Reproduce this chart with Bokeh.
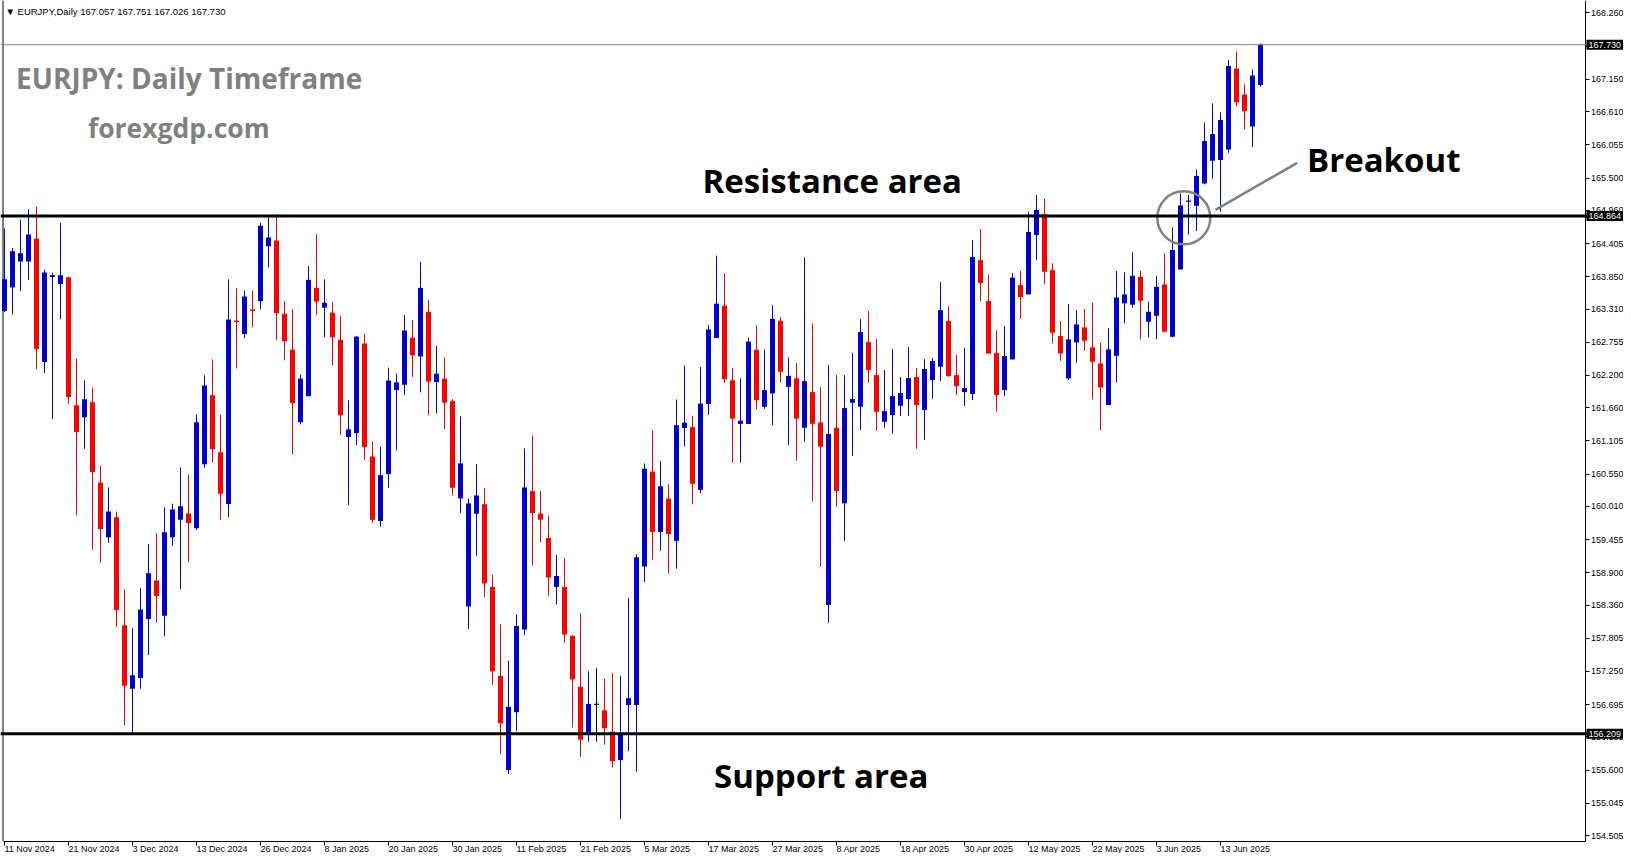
from bokeh.plotting import figure
from bokeh.models import Range1d, FixedTicker, Span, Label, ColumnDataSource, NumeralTickFormatter
from bokeh.embed import file_html
from bokeh.resources import INLINE

# ---------------- data ----------------
opens = [163.275,163.67,164.106,164.106,164.49,162.422,163.846,163.727,163.84,161.699,
         161.501,161.75,160.41,159.495,159.829,158.021,156.959,157.14,158.128,158.772,
         158.179,159.495,159.784,159.891,159.642,160.716,161.868,160.913,160.049,163.117,
         162.891,163.303,163.44,164.36,164.456,163.23,162.63,161.418,161.852,163.664,
         163.332,163.25,162.796,161.169,161.233,162.733,160.844,159.765,160.55,161.954,
         162.043,162.828,162.516,163.262,162.088,162.146,161.769,160.142,158.336,159.887,
         160.046,158.661,157.175,155.598,156.568,157.952,160.263,159.889,159.48,158.662,
         158.662,157.845,156.993,156.209,156.7,156.598,156.243,155.766,156.686,156.686,
         159.003,160.591,159.582,160.141,159.432,161.32,161.334,160.284,161.722,162.826,
         163.365,162.118,161.388,161.388,162.628,161.675,161.899,163.113,162.009,162.152,
         161.324,161.921,161.414,158.359,161.324,160.059,161.743,161.676,162.757,162.205,
         161.425,161.536,161.692,161.804,162.172,161.62,162.122,162.345,163.108,162.205,
         161.921,161.888,164.128,163.443,162.573,161.954,162.467,163.71,163.554,164.546,
         164.897,163.961,162.857,162.149,162.752,163.002,162.668,162.4,161.704,162.528,
         163.404,163.381,163.849,163.097,163.197,163.721,162.846,163.972,165.104,165.037,
         165.41,165.789,165.8,165.979,167.332,166.897,166.362,167.057]
highs = [164.66,164.33,164.806,164.976,165.026,163.965,163.919,164.755,163.84,162.484,
         162.117,161.998,160.687,160.326,159.925,158.625,157.97,158.642,159.377,159.558,
         159.993,160.055,160.66,160.546,161.546,162.202,162.467,161.546,163.806,163.654,
         163.62,163.62,164.755,164.84,164.897,163.447,163.313,162.216,164.028,164.564,
         163.805,163.428,163.198,161.782,162.86,162.898,161.093,161.01,162.331,162.229,
         163.211,163.128,164.098,163.466,162.694,162.496,161.801,161.514,160.142,160.715,
         160.314,158.865,158.036,157.43,158.202,160.978,161.195,160.264,159.855,159.194,
         159.146,157.858,158.22,157.252,157.3,157.129,157.218,157.177,158.478,159.208,
         160.727,161.286,160.768,160.38,161.797,162.363,161.525,162.342,163.044,164.203,
         163.903,162.329,162.152,162.833,163.037,162.629,163.372,163.181,162.499,162.404,
         164.173,163.069,161.999,162.372,162.205,162.205,162.579,163.142,163.275,162.807,
         162.289,162.64,162.172,162.673,162.322,162.473,162.489,163.76,163.359,162.54,
         162.657,164.463,164.647,163.894,162.958,163.025,163.911,163.944,164.931,165.215,
         165.159,164.073,163.108,163.393,163.292,163.309,163.42,162.746,162.986,163.95,
         163.922,164.256,163.95,163.431,163.866,164.24,164.674,165.243,165.215,165.644,
         166.43,166.748,166.598,167.473,167.616,167.064,167.315,167.751]
lows = [163.26,163.22,163.608,163.795,162.303,162.241,161.467,163.14,161.72,159.857,
        160.97,159.281,159.06,159.4,157.993,156.35,156.2,156.959,157.523,158.06,
        157.835,159.348,158.625,159.077,159.614,160.66,160.744,159.784,159.829,162.315,
        162.823,163.004,163.303,164.004,162.79,162.452,160.882,161.38,161.852,163.205,
        162.835,162.369,161.201,160.033,161.035,160.786,159.733,159.67,160.32,160.946,
        161.871,162.177,161.916,161.533,161.565,161.303,160.193,159.893,157.959,159.184,
        158.495,157.028,155.866,155.534,156.249,157.857,159.018,159.412,158.512,158.369,
        157.722,156.311,155.821,156.073,156.073,156.025,155.643,154.78,155.916,155.575,
        158.744,159.119,159.269,158.887,158.969,161.013,160.046,160.23,161.538,162.826,
        162.07,160.741,160.741,161.388,161.627,161.641,161.368,162.083,161.034,160.775,
        161.09,160.087,159.0,158.064,160.003,159.435,160.856,161.285,162.077,161.274,
        161.324,161.224,161.525,161.525,160.973,161.118,161.809,162.105,162.177,161.871,
        161.687,161.787,163.443,162.556,161.592,161.854,162.467,163.147,163.554,164.128,
        163.727,162.735,162.445,162.122,162.411,162.612,161.798,161.285,161.704,162.082,
        163.069,163.336,162.801,162.835,162.801,162.93,162.835,163.972,164.557,164.613,
        165.394,165.488,164.936,165.923,166.70,166.312,166.016,167.026]
closes = [163.806,164.275,164.241,164.558,162.642,163.919,163.874,163.874,161.84,161.253,
          161.8,160.586,159.631,159.925,158.275,157.01,157.185,158.286,158.891,158.512,
          159.575,159.959,160.01,159.733,161.416,162.032,160.97,160.219,163.134,163.094,
          163.518,163.275,164.704,164.507,163.241,162.771,161.737,162.146,163.798,163.434,
          163.415,162.835,161.533,161.297,162.848,161.003,159.784,160.532,162.114,162.082,
          162.95,162.535,163.664,162.095,162.229,161.744,160.32,160.729,160.059,160.193,
          158.719,157.251,156.383,156.657,158.01,160.327,159.899,159.787,158.819,158.846,
          157.865,157.115,156.107,156.707,156.7,156.298,155.746,156.189,156.802,159.16,
          160.639,159.582,160.346,159.548,161.368,161.409,160.387,161.729,162.969,163.399,
          162.138,161.477,161.443,162.765,161.784,161.954,163.147,162.26,162.193,161.477,
          162.105,161.391,161.007,161.219,160.265,161.653,161.804,162.924,162.289,161.592,
          161.603,161.854,161.904,162.155,161.704,162.306,162.439,163.292,162.188,162.021,
          161.988,164.178,163.744,162.567,161.871,162.523,163.833,163.509,164.596,164.964,
          163.933,162.913,162.567,162.802,163.053,162.779,162.428,161.999,162.634,163.504,
          163.554,163.866,163.448,163.264,163.682,162.93,164.295,165.042,165.126,165.533,
          166.118,166.235,166.47,167.373,166.768,166.618,167.215,167.730]

date_labels = ["11 Nov 2024", "21 Nov 2024", "3 Dec 2024", "13 Dec 2024", "26 Dec 2024",
               "8 Jan 2025", "20 Jan 2025", "30 Jan 2025", "11 Feb 2025", "21 Feb 2025",
               "5 Mar 2025", "17 Mar 2025", "27 Mar 2025", "8 Apr 2025", "18 Apr 2025",
               "30 Apr 2025", "12 May 2025", "22 May 2025", "3 Jun 2025", "13 Jun 2025"]
date_bars = [1, 9, 17, 25, 33, 41, 49, 57, 65, 73, 81, 89, 97, 105, 113, 121, 129, 137, 145, 153]

price_ticks = [168.26, 167.705, 167.15, 166.61, 166.055, 165.5, 164.96, 164.405, 163.85,
               163.31, 162.755, 162.2, 161.66, 161.105, 160.55, 160.01, 159.455, 158.9,
               158.36, 157.805, 157.25, 156.695, 156.155, 155.6, 155.045, 154.505]

resistance_level = 164.864
support_level = 156.209
last_price = 167.730
header_values = ["167.057", "167.751", "167.026", "167.730"]

# ---------------- layout constants (pixels -> data) ----------------
PX_PER_BAR = 8.0
PX_PER_YEN = 59.8
W, H = 1623, 853
TOP_PRICE = 168.469          # price at the top edge of the canvas


def bx(px):                  # canvas x (px) -> bar index
    return (px + 4.0) / PX_PER_BAR


def py(px):                  # canvas y (px) -> price
    return TOP_PRICE - px / PX_PER_YEN


AXIS_X = bx(1584.5)           # right price axis
AXIS_Y = py(840.5)            # bottom time axis
LEFT_X = bx(2.5)

# ---------------- candles ----------------
n = len(opens)
idx = list(range(1, n + 1))
tops, bottoms, colors = [], [], []
for o, c in zip(opens, closes):
    t, b = max(o, c), min(o, c)
    if t - b < 0.02:
        m = (t + b) / 2
        t, b = m + 0.01, m - 0.01
    tops.append(t)
    bottoms.append(b)
    colors.append("#0000CD" if c > o else ("#FF0000" if c < o else "#000000"))

src = ColumnDataSource(dict(x=idx, o=opens, h=highs, l=lows, c=closes,
                            top=tops, bottom=bottoms, color=colors))

p = figure(width=W, height=H,
           x_range=Range1d(bx(0), bx(W)), y_range=Range1d(py(H), py(0)),
           output_backend="svg", toolbar_location=None, y_axis_location="right",
           min_border_left=0, min_border_top=0, min_border_right=0, min_border_bottom=0)
p.background_fill_color = "white"
p.border_fill_color = "white"
p.outline_line_color = None
p.xgrid.visible = False
p.ygrid.visible = False

# price axis (right, drawn at a fixed location inside the canvas)
ya = p.yaxis[0]
ya.fixed_location = AXIS_X
ya.bounds = (AXIS_Y, TOP_PRICE)
ya.ticker = FixedTicker(ticks=price_ticks)
ya.formatter = NumeralTickFormatter(format="0.000")
ya.axis_line_color = "black"
ya.major_tick_out = 4
ya.major_tick_in = 0
ya.minor_tick_line_color = None
ya.major_label_standoff = 2
ya.major_label_text_font = "Liberation Sans"
ya.major_label_text_font_size = "9px"
ya.major_label_text_color = "black"

# time axis (bottom, fixed location)
xa = p.xaxis[0]
xa.fixed_location = AXIS_Y
xa.bounds = (LEFT_X, AXIS_X)
xa.ticker = FixedTicker(ticks=date_bars)
xa.axis_line_color = "black"
xa.major_tick_out = 4
xa.major_tick_in = 0
xa.minor_tick_line_color = None
xa.major_label_text_color = None

# left frame line
p.segment(x0=[LEFT_X], y0=[AXIS_Y], x1=[LEFT_X], y1=[TOP_PRICE], line_color="black", line_width=1)

# level lines
p.add_layout(Span(location=last_price, dimension="width", line_color="#778899", line_width=1))
p.add_layout(Span(location=resistance_level, dimension="width", line_color="black", line_width=3))
p.add_layout(Span(location=support_level, dimension="width", line_color="black", line_width=3))

# candles
p.segment(x0="x", y0="l", x1="x", y1="h", color="color", line_width=1, source=src)
p.vbar(x="x", width=0.625, top="top", bottom="bottom", fill_color="color",
       line_color=None, source=src)

# date labels, left aligned at their ticks
for b, t in zip(date_bars, date_labels):
    p.add_layout(Label(x=b, y=py(848), text=t, text_align="left", text_baseline="middle",
                       text_font="Liberation Sans", text_font_size="9px", text_color="black"))

# highlighted price boxes on the axis (drawn above the axis labels)
for v in [last_price, resistance_level, support_level]:
    p.add_layout(Label(x=bx(1586), y=v, text=f"{v:.3f}", text_align="left",
                       text_baseline="middle", text_font="Liberation Sans",
                       text_font_size="9px", text_color="white", level="overlay",
                       background_fill_color="black", padding=2))

# header
p.add_layout(Label(x=bx(5), y=py(10.5), text="\u25BC EURJPY,Daily  " + " ".join(header_values),
                   text_align="left", text_baseline="middle", text_font="Liberation Sans",
                   text_font_size="9.5px", text_color="black"))

# titles
p.add_layout(Label(x=bx(15.6), y=py(77), text="EURJPY: Daily Timeframe", text_align="left",
                   text_baseline="middle", text_font="Open Sans", text_font_style="bold",
                   text_font_size="28px", text_color="#808080"))
p.add_layout(Label(x=bx(87.4), y=py(127), text="forexgdp.com", text_align="left",
                   text_baseline="middle", text_font="Open Sans", text_font_style="bold",
                   text_font_size="26.5px", text_color="#808080"))
p.add_layout(Label(x=bx(702), y=py(180), text="Resistance area", text_align="left",
                   text_baseline="middle", text_font="Open Sans", text_font_style="bold",
                   text_font_size="33px", text_color="black"))
p.add_layout(Label(x=bx(713.6), y=py(775), text="Support area", text_align="left",
                   text_baseline="middle", text_font="Open Sans", text_font_style="bold",
                   text_font_size="33px", text_color="black"))
p.add_layout(Label(x=bx(1306.5), y=py(159), text="Breakout", text_align="left",
                   text_baseline="middle", text_font="Open Sans", text_font_style="bold",
                   text_font_size="33px", text_color="black"))

# breakout circle and pointer
p.scatter(x=[bx(1183.3)], y=[py(217.3)], marker="circle", size=53, fill_color=None,
          line_color="#808080", line_width=2.5)
p.line(x=[bx(1215), bx(1296.7)], y=[py(209.3), py(162.3)], line_color="#808080", line_width=2.5)

open("out.html", "w").write(file_html(p, INLINE))
